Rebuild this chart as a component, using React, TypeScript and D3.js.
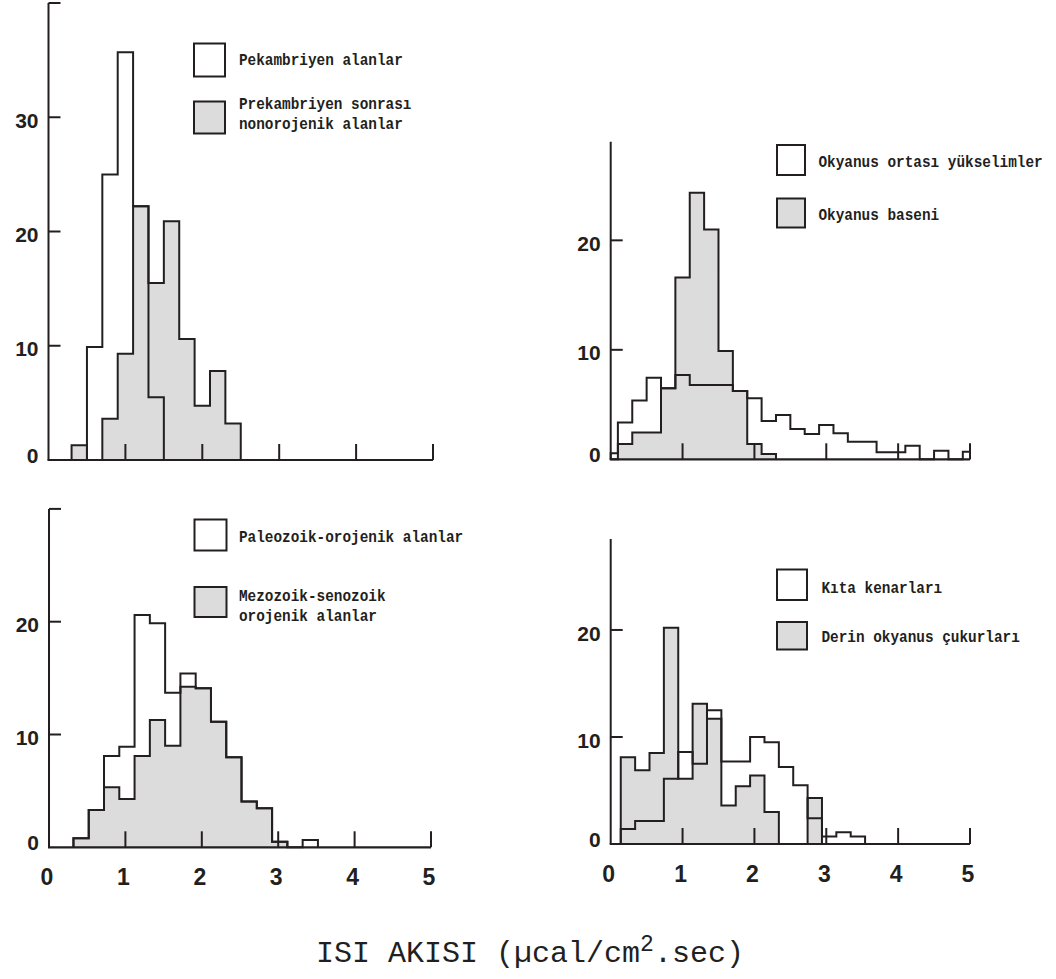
import React from 'react';
import * as d3 from 'd3';

const INK = '#231f20';
const SHADE = '#dcdcdc';

// Heat-flow axis (µcal/cm².sec)
const heatFlowTicks = [0, 1, 2, 3, 4, 5];
const BIN_WIDTH = 0.2;

// Precambrian shields vs. post-Precambrian non-orogenic areas
const precambrianStart = 0.3;
const precambrianCounts = [0, 9.9, 25.0, 35.7, 22.2, 5.5];
const postPrecambrianStart = 0.3;
const postPrecambrianCounts = [1.3, 0, 3.6, 9.3, 22.2, 15.5, 20.9, 10.6, 4.75, 7.8, 3.2];

// Paleozoic orogenic vs. Mesozoic–Cenozoic orogenic areas
const paleozoicStart = 0.32;
const paleozoicCounts = [0.8, 3.31, 8.1, 8.92, 20.6, 19.86, 13.7, 15.4, 14.1, 11.14, 7.98, 4.05, 3.46, 0.5, 0, 0.65];
const mesoCenozoicStart = 0.32;
const mesoCenozoicCounts = [0.8, 3.31, 5.32, 4.28, 8.1, 11.29, 9.0, 14.24, 14.1, 11.14, 7.98, 4.05, 3.46, 0.5];

// Mid-ocean ridges vs. ocean basins
const ridgeStart = -0.1;
const ridgeCounts = [0.55, 3.35, 5.36, 7.46, 6.48, 7.7, 6.79, 6.79, 6.79, 6.24, 5.57, 3.5, 4.05, 2.77, 2.31, 3.14, 2.37, 1.61, 1.61, 0.65, 0.65, 1.24, 0, 0.78, 0, 0.69];
const basinStart = -0.1;
const basinCounts = [0, 1.4, 2.44, 2.44, 6.48, 16.6, 24.35, 21.0, 9.9, 6.24, 1.4, 0.49];

// Continental margins vs. deep-sea trenches
const marginStart = 0.14;
const marginCounts = [1.4, 2.15, 2.15, 6.1, 8.6, 7.5, 12.5, 7.7, 7.7, 10.0, 9.5, 7.2, 5.5, 2.4, 0.7, 1.1, 0.7];
const trenchStart = 0.14;
const trenchCounts = [8.1, 6.9, 8.5, 20.2, 6.1, 13.1, 11.7, 3.6, 5.4, 6.4, 3.0, 0, 0, 4.3];

const legendTL = ['Pekambriyen alanlar', 'Prekambriyen sonrası', 'nonorojenik alanlar'];
const legendBL = ['Paleozoik-orojenik alanlar', 'Mezozoik-senozoik', 'orojenik alanlar'];
const legendTR = ['Okyanus ortası yükselimler', 'Okyanus baseni'];
const legendBR = ['Kıta kenarları', 'Derin okyanus çukurları'];

type Hist = { start: number; counts: number[] };

type PanelSpec = {
  xRange: [number, number];
  yRange: [number, number];
  yMax: number;
  yTicks: number[];
  yLabels: number[];
  xLabels: number[];
  open: Hist;
  shaded: Hist;
  legend: {
    boxX: number;
    boxW: number;
    openBox: [number, number];
    shadedBox: [number, number];
    textX: number;
    openBase: number;
    shadedBase: number[];
    openLines: string[];
    shadedLines: string[];
  };
};

const panels: PanelSpec[] = [
  {
    xRange: [48.5, 433],
    yRange: [460, 3],
    yMax: 40,
    yTicks: [10, 20, 30, 40],
    yLabels: [0, 10, 20, 30],
    xLabels: [],
    open: { start: precambrianStart, counts: precambrianCounts },
    shaded: { start: postPrecambrianStart, counts: postPrecambrianCounts },
    legend: {
      boxX: 194, boxW: 31, openBox: [43.5, 33], shadedBox: [101.5, 32],
      textX: 239, openBase: 65, shadedBase: [108.5, 128.5],
      openLines: [legendTL[0]], shadedLines: [legendTL[1], legendTL[2]],
    },
  },
  {
    xRange: [49, 431],
    yRange: [847.3, 508.9],
    yMax: 30,
    yTicks: [10, 20, 30],
    yLabels: [0, 10, 20],
    xLabels: heatFlowTicks,
    open: { start: paleozoicStart, counts: paleozoicCounts },
    shaded: { start: mesoCenozoicStart, counts: mesoCenozoicCounts },
    legend: {
      boxX: 194.5, boxW: 32, openBox: [519.5, 31], shadedBox: [587, 30],
      textX: 239, openBase: 542, shadedBase: [600.5, 620.5],
      openLines: [legendBL[0]], shadedLines: [legendBL[1], legendBL[2]],
    },
  },
  {
    xRange: [610.7, 970],
    yRange: [459.3, 141.8],
    yMax: 29,
    yTicks: [10, 20],
    yLabels: [0, 10, 20],
    xLabels: [],
    open: { start: ridgeStart, counts: ridgeCounts },
    shaded: { start: basinStart, counts: basinCounts },
    legend: {
      boxX: 777, boxW: 28, openBox: [145, 30], shadedBox: [198.5, 29],
      textX: 818.5, openBase: 167, shadedBase: [220],
      openLines: [legendTR[0]], shadedLines: [legendTR[1]],
    },
  },
  {
    xRange: [610.7, 970],
    yRange: [844, 539],
    yMax: 28.5,
    yTicks: [10, 20],
    yLabels: [0, 10, 20],
    xLabels: heatFlowTicks,
    open: { start: marginStart, counts: marginCounts },
    shaded: { start: trenchStart, counts: trenchCounts },
    legend: {
      boxX: 777, boxW: 30, openBox: [569.5, 30.5], shadedBox: [622, 27.5],
      textX: 821.5, openBase: 592.5, shadedBase: [641.5],
      openLines: [legendBR[0]], shadedLines: [legendBR[1]],
    },
  },
];

// Legend lettering: a bold typewriter face, set narrower than its natural width
const LEGEND_SIZE = 17;
const LEGEND_SQUEEZE = 0.846;
const digitFont = "'Liberation Sans', Arial, sans-serif";
const monoFont = "'Liberation Mono', 'Courier New', monospace";

function stepPath(h: Hist, x: d3.ScaleLinear<number, number>, y: d3.ScaleLinear<number, number>): string {
  const [d0, d1] = x.domain();
  const n = h.counts.length;
  const edge = (i: number) => Math.max(d0, Math.min(d1, h.start + i * BIN_WIDTH));
  const pts: [number, number][] = [[x(edge(0)), y(0)]];
  h.counts.forEach((c, i) => {
    pts.push([x(edge(i)), y(c)]);
    pts.push([x(edge(i + 1)), y(c)]);
  });
  pts.push([x(edge(n)), y(0)]);
  return d3.line()(pts) ?? '';
}

function LegendText({ x, y, text }: { x: number; y: number; text: string }) {
  return (
    <text
      transform={`translate(${x},${y}) scale(${LEGEND_SQUEEZE},1)`}
      fontFamily={monoFont}
      fontWeight="bold"
      fontSize={LEGEND_SIZE}
      fill={INK}
    >
      {text}
    </text>
  );
}

function Panel({ spec }: { spec: PanelSpec }) {
  const x = d3.scaleLinear().domain([0, 5]).range(spec.xRange);
  const y = d3.scaleLinear().domain([0, spec.yMax]).range(spec.yRange);
  const x0 = x(0);
  const y0 = y(0);
  const shadedD = stepPath(spec.shaded, x, y);
  const openD = stepPath(spec.open, x, y);
  const lg = spec.legend;
  return (
    <g>
      <path d={shadedD} fill={SHADE} stroke="none" />
      <path d={openD} fill="none" stroke={INK} strokeWidth={2} strokeLinejoin="miter" />
      <path d={shadedD} fill="none" stroke={INK} strokeWidth={2} strokeLinejoin="miter" />

      {/* axes */}
      <line x1={x0} y1={y(spec.yMax)} x2={x0} y2={y0} stroke={INK} strokeWidth={2} />
      <line x1={x0 - 1} y1={y0} x2={x(5)} y2={y0} stroke={INK} strokeWidth={2.2} />
      {spec.yTicks.map((t) => (
        <line key={'yt' + t} x1={x0} x2={x0 + 12} y1={y(t)} y2={y(t)} stroke={INK} strokeWidth={2} />
      ))}
      {heatFlowTicks.filter((t) => t > 0).map((t) => (
        <line key={'xt' + t} x1={x(t)} x2={x(t)} y1={y0} y2={y0 - 16} stroke={INK} strokeWidth={2} />
      ))}
      {spec.yLabels.map((t) => (
        <text
          key={'yl' + t}
          x={x0 - 10}
          y={y(t) + (t === 0 ? -5 : 3)}
          dy="0.36em"
          textAnchor="end"
          fontFamily={digitFont}
          fontWeight="bold"
          fontSize={21}
          fill={INK}
        >
          {t}
        </text>
      ))}
      {spec.xLabels.map((t) => (
        <text
          key={'xl' + t}
          x={x(t) - 2}
          y={y0 + 38}
          textAnchor="middle"
          fontFamily={digitFont}
          fontWeight="bold"
          fontSize={23}
          fill={INK}
        >
          {t}
        </text>
      ))}

      {/* legend */}
      <rect x={lg.boxX} y={lg.openBox[0]} width={lg.boxW} height={lg.openBox[1]} fill="#fff" stroke={INK} strokeWidth={2} />
      <rect x={lg.boxX} y={lg.shadedBox[0]} width={lg.boxW} height={lg.shadedBox[1]} fill={SHADE} stroke={INK} strokeWidth={2} />
      {lg.openLines.map((s, i) => (
        <LegendText key={'lo' + i} x={lg.textX} y={lg.openBase} text={s} />
      ))}
      {lg.shadedLines.map((s, i) => (
        <LegendText key={'ls' + i} x={lg.textX} y={lg.shadedBase[i]} text={s} />
      ))}
    </g>
  );
}

export default function App() {
  return (
    <svg
      width={1056}
      height={979}
      viewBox="0 0 1056 979"
      style={{ position: 'absolute', left: 0, top: 0, background: '#fff' }}
    >
      <rect x={0} y={0} width={1056} height={979} fill="#fff" />
      {panels.map((p, i) => (
        <Panel key={i} spec={p} />
      ))}
      <text x={530} y={962} textAnchor="middle" fontFamily={monoFont} fontSize={30} fill={INK}>
        <tspan>ISI AKISI (µcal/cm</tspan>
        <tspan fontSize={23} dy={-11}>2</tspan>
        <tspan dy={11}>.sec)</tspan>
      </text>
    </svg>
  );
}
